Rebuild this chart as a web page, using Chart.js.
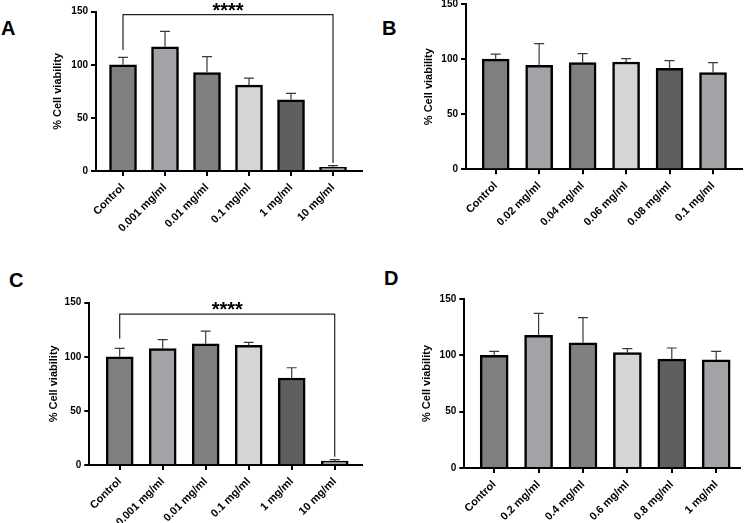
<!DOCTYPE html>
<html>
<head>
<meta charset="utf-8">
<script src="https://cdn.jsdelivr.net/npm/chart.js@4.4.1/dist/chart.umd.min.js"></script>
<style>
  body { margin: 0; background: #fff; width: 747px; height: 523px; position: relative; overflow: hidden; font-family: 'Liberation Sans', Arial, sans-serif; }
  canvas { position: absolute; }
  .lbl { position: absolute; font-weight: bold; font-size: 20px; line-height: 20px; color: #000; }
</style>
</head>
<body>
<div class="lbl" style="left:1px;top:18px">A</div>
<div class="lbl" style="left:382px;top:18px">B</div>
<div class="lbl" style="left:9px;top:270px">C</div>
<div class="lbl" style="left:384px;top:268px">D</div>
<canvas id="chartA" width="373" height="261" style="left:0;top:0"></canvas>
<canvas id="chartB" width="374" height="261" style="left:373px;top:0"></canvas>
<canvas id="chartC" width="373" height="262" style="left:0;top:261px"></canvas>
<canvas id="chartD" width="374" height="262" style="left:373px;top:261px"></canvas>
<script>
// values (mean and upper error = SD)
const yTicks = [0, 50, 100, 150];
const barColors = ['#7f7f7f', '#a2a2a7', '#808080', '#d5d5d5', '#5f5f5f', '#a2a2a7'];

const catsA = ['Control', '0.001 mg/ml', '0.01 mg/ml', '0.1 mg/ml', '1 mg/ml', '10 mg/ml'];
const meanA = [100, 117, 92.7, 80.8, 67, 3.4];
const sdA = [7, 14.5, 15, 6.6, 6, 1.6];

const catsB = ['Control', '0.02 mg/ml', '0.04 mg/ml', '0.06 mg/ml', '0.08 mg/ml', '0.1 mg/ml'];
const meanB = [100, 94.3, 96.8, 97.4, 91.6, 87.7];
const sdB = [4.5, 19.7, 8.2, 3, 7, 9.1];

const catsC = ['Control', '0.001 mg/ml', '0.01 mg/ml', '0.1 mg/ml', '1 mg/ml', '10 mg/ml'];
const meanC = [100, 107.5, 112.1, 110.6, 80.4, 3.7];
const sdC = [7.7, 8.3, 11.7, 2.7, 9.5, 1.2];

const catsD = ['Control', '0.2 mg/ml', '0.4 mg/ml', '0.6 mg/ml', '0.8 mg/ml', '1 mg/ml'];
const meanD = [100, 117.8, 111.2, 102.4, 96.7, 95.9];
const sdD = [3.6, 19.5, 22.2, 3.5, 9.8, 7.7];

const family = "'Liberation Sans', Arial, sans-serif";

function makePanel(id, cats, means, sds, g, bracket) {
  const plugins = [{
    id: 'errorBars',
    afterDatasetsDraw(chart) {
      const {ctx, scales: {x, y}} = chart;
      ctx.save();
      ctx.strokeStyle = '#3a3a3a';
      ctx.lineWidth = 1.2;
      means.forEach((m, i) => {
        const px = x.getPixelForValue(i);
        const y0 = y.getPixelForValue(m);
        const y1 = y.getPixelForValue(m + sds[i]);
        ctx.beginPath();
        ctx.moveTo(px, y0); ctx.lineTo(px, y1);
        ctx.moveTo(px - 5, y1); ctx.lineTo(px + 5, y1);
        ctx.stroke();
      });
      // significance bracket
      if (bracket) {
        const x0 = x.getPixelForValue(bracket.from), x1 = x.getPixelForValue(bracket.to);
        const yt = y.getPixelForValue(bracket.top);
        ctx.strokeStyle = '#222';
        ctx.beginPath();
        ctx.moveTo(x0, y.getPixelForValue(bracket.left));
        ctx.lineTo(x0, yt); ctx.lineTo(x1, yt);
        ctx.lineTo(x1, y.getPixelForValue(bracket.right));
        ctx.stroke();
        ctx.fillStyle = '#000';
        ctx.font = 'bold 20px ' + family;
        ctx.textAlign = 'center';
        ctx.textBaseline = 'alphabetic';
        ctx.fillText(bracket.label, (x0 + x1) / 2, yt - 9 + 0.57 * 20);
      }
      ctx.restore();
    }
  }];

  new Chart(document.getElementById(id), {
    type: 'bar',
    data: {
      datasets: [{
        data: means.map((v, i) => ({x: i, y: v})),
        backgroundColor: barColors,
        borderColor: '#000',
        borderWidth: 2.5,
        barThickness: g.barWidth
      }]
    },
    options: {
      responsive: false,
      animation: false,
      layout: {padding: {left: 0, top: g.top, right: g.right, bottom: 0}},
      plugins: {legend: {display: false}, tooltip: {enabled: false}},
      scales: {
        x: {
          type: 'linear', min: g.xMin, max: g.xMax, bounds: 'data', offset: false,
          afterBuildTicks: s => { s.ticks = cats.map((c, i) => ({value: i})); },
          afterFit: s => { s.height = g.xHeight; s.paddingLeft = 0; s.paddingRight = 0; },
          border: {display: true, color: '#000', width: 2},
          grid: {display: true, offset: false, drawOnChartArea: false, drawTicks: true, tickLength: 5, color: '#000', lineWidth: 2},
          ticks: {
            autoSkip: false, minRotation: 45, maxRotation: 45, padding: 5, color: '#000',
            font: {size: 11, weight: 'bold', family},
            callback: v => cats[v]
          }
        },
        y: {
          min: 0, max: 150,
          afterBuildTicks: s => { s.ticks = yTicks.map(v => ({value: v})); },
          afterFit: s => { s.width = g.yWidth; s.paddingTop = 0; s.paddingBottom = 0; },
          border: {display: true, color: '#000', width: 2},
          grid: {display: true, drawOnChartArea: false, drawTicks: true, tickLength: 5, color: '#000', lineWidth: 2},
          ticks: {color: '#000', padding: 3, font: {size: 10, weight: 'bold', family}},
          title: {
            display: true, text: '% Cell viability', color: '#000',
            font: {size: 11, weight: 'bold', family},
            padding: {top: g.titlePad, bottom: 0}
          }
        }
      }
    },
    plugins
  });
}

makePanel('chartA', catsA, meanA, sdA,
  {yWidth: 96, top: 11.7, right: 11, xHeight: 90, titlePad: 51.4, xMin: -0.643, xMax: 5.69, barWidth: 27},
  {from: 0, to: 5, top: 147.2, left: 114, right: 7.5, label: '****'});
makePanel('chartB', catsB, meanB, sdB,
  {yWidth: 93, top: 4, right: 5, xHeight: 91.7, titlePad: 49.7, xMin: -0.683, xMax: 5.667, barWidth: 27});
makePanel('chartC', catsC, meanC, sdC,
  {yWidth: 89.3, top: 41.7, right: 11, xHeight: 58, titlePad: 47.4, xMin: -0.707, xMax: 5.635, barWidth: 27},
  {from: 0, to: 5, top: 139.5, left: 116.7, right: 7.7, label: '****'});
makePanel('chartD', catsD, meanD, sdD,
  {yWidth: 91.3, top: 38, right: 7, xHeight: 55, titlePad: 47.1, xMin: -0.673, xMax: 5.536, barWidth: 28});
</script>
</body>
</html>
